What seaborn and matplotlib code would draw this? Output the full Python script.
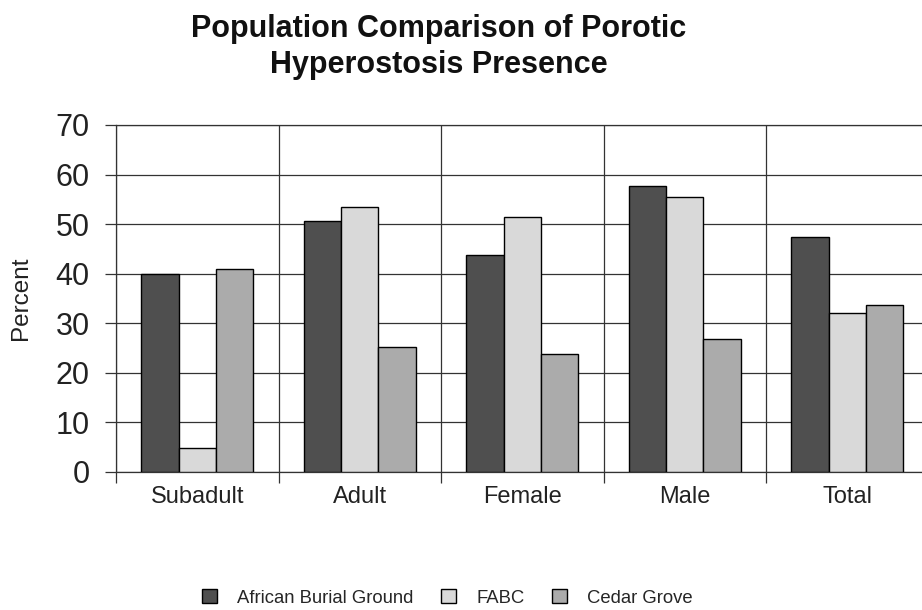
import matplotlib
matplotlib.use("Agg")
import matplotlib.pyplot as plt
from matplotlib.patches import Patch
from matplotlib.ticker import FixedLocator, MultipleLocator
import pandas as pd
import seaborn as sns

# data
categories = ['Subadult', 'Adult', 'Female', 'Male', 'Total']
african_burial_ground = [40, 50.6, 43.7, 57.7, 47.4]
fabc = [4.7, 53.4, 51.5, 55.4, 32.0]
cedar_grove = [40.9, 25.1, 23.8, 26.7, 33.6]
series_names = ['African Burial Ground', 'FABC', 'Cedar Grove']
series_colors = ['#4f4f4f', '#d9d9d9', '#ababab']

rows = []
for name, values in zip(series_names, [african_burial_ground, fabc, cedar_grove]):
    for cat, v in zip(categories, values):
        rows.append({'Group': cat, 'Percent': v, 'Population': name})
df = pd.DataFrame(rows)

sns.set_theme(style='white')
plt.rcParams['font.family'] = ['Liberation Sans', 'DejaVu Sans']

fig = plt.figure(figsize=(9.22, 6.10), dpi=100)
ax = fig.add_axes([116 / 922, 1 - 471.7 / 610, 812.5 / 922, 346.7 / 610])

palette = dict(zip(series_names, series_colors))
sns.barplot(data=df, x='Group', y='Percent', hue='Population', order=categories,
            hue_order=series_names, palette=palette, width=0.69, gap=0,
            edgecolor='black', linewidth=1.0, saturation=1, ax=ax, legend=False,
            zorder=3)

ax.set_ylim(0, 70)
ax.set_xlim(-0.5, 4.5)
ax.yaxis.set_major_locator(MultipleLocator(10))
ax.xaxis.set_minor_locator(FixedLocator([-0.5, 0.5, 1.5, 2.5, 3.5, 4.5]))

ax.grid(axis='y', which='major', color='#333333', linewidth=0.9, zorder=0)
ax.grid(axis='x', which='minor', color='#333333', linewidth=0.9, zorder=0)
ax.set_axisbelow(True)

for s in ax.spines.values():
    s.set_color('#333333')
    s.set_linewidth(0.9)

ax.tick_params(axis='y', which='major', direction='out', length=8, width=0.9,
               color='#333333', left=True, labelsize=22, pad=11, labelcolor='#222222')
ax.tick_params(axis='x', which='major', length=0, labelsize=17, pad=10, labelcolor='#222222')
ax.tick_params(axis='x', which='minor', direction='out', length=8, width=0.9,
               color='#333333', bottom=True)

ax.set_xlabel('')
ax.set_ylabel('Percent', fontsize=17.5, color='#222222')
ax.yaxis.set_label_coords(-0.103, 0.5)

# baseline of the second title line
fig.text(439 / 922, 1 - 73 / 610, 'Population Comparison of Porotic\nHyperostosis Presence',
         ha='center', va='baseline', multialignment='center', fontsize=22,
         fontweight='bold', color='#111111', linespacing=1.28)

handles = [Patch(facecolor=c, edgecolor='black', linewidth=1.0) for c in series_colors]
fig.legend(handles, series_names, loc='center', bbox_to_anchor=(0.4854, 0.02),
           ncol=3, frameon=False, fontsize=13.3, handlelength=0.8, handleheight=0.8,
           handletextpad=1.1, columnspacing=1.5)

fig.savefig('out.png', dpi=100)
